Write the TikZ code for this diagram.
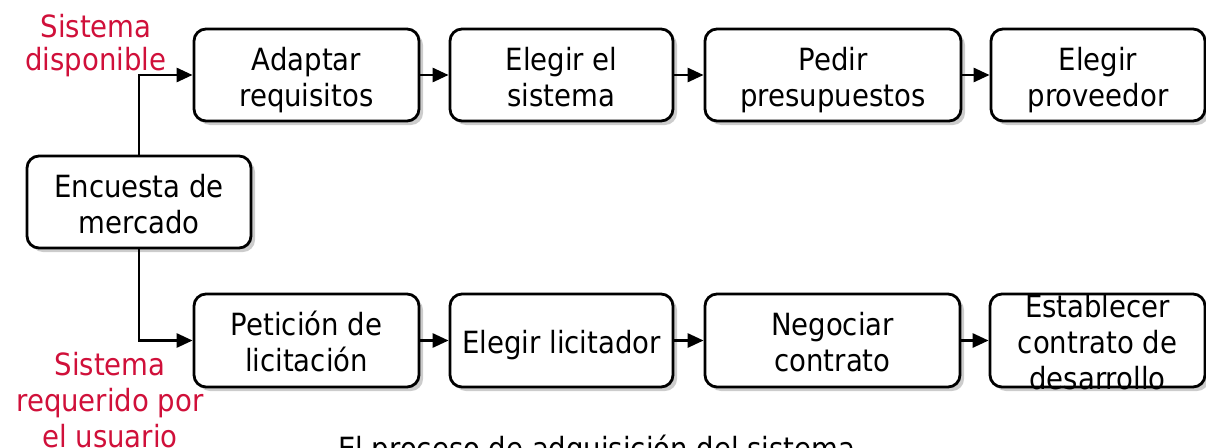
\documentclass[tikz,border=0pt]{standalone}
\usepackage{fontspec}
\setmainfont{DejaVu Sans Condensed}
\usetikzlibrary{arrows.meta,shadows}
\definecolor{lblred}{RGB}{208,16,58}
\definecolor{shade}{RGB}{204,204,204}
\newcommand\bxtop{\rule{0pt}{34pt}}
\newcommand\bxbot{\rule[-8pt]{0pt}{8pt}}
\begin{document}
\begin{tikzpicture}[x=1pt,y=-1pt,
  box/.style={draw=black, line width=2.8pt, rounded corners=12pt, fill=white,
    inner sep=0pt, align=center, font=\fontsize{30.6}{36}\selectfont,
    drop shadow={shadow xshift=4pt, shadow yshift=-4pt, fill=shade, opacity=1}},
  boxtext/.style={inner sep=0pt, align=center, font=\fontsize{30.6}{36}\selectfont},
  redlbl/.style={inner sep=0pt, align=center, text=lblred},
  arr/.style={line width=2.8pt, -{Triangle[length=16pt,width=14pt]}},
  caption/.style={inner sep=0pt, font=\fontsize{30.6}{36}\selectfont}]
\useasboundingbox (0,0) rectangle (1206,447);
\clip (0,0) rectangle (1206,447);

% top row
\node[box, minimum width=225pt, minimum height=92pt] (a1) at (306.5,75) {\bxtop Adaptar\\requisitos\bxbot};
\node[box, minimum width=223pt, minimum height=92pt] (a2) at (561.5,75) {\bxtop Elegir el\\sistema\bxbot};
\node[box, minimum width=256pt, minimum height=92pt] (a3) at (833,75) {\bxtop Pedir\\presupuestos\bxbot};
\node[box, minimum width=214pt, minimum height=92pt] (a4) at (1098,75) {\bxtop Elegir\\proveedor\bxbot};

% start
\node[box, minimum width=224pt, minimum height=92pt] (enc) at (139,202) {\bxtop Encuesta de\\mercado\bxbot};

% bottom row
\node[box, minimum width=225pt, minimum height=93pt] (p1) at (306.5,340.5) {\bxtop Petición de\\licitación\bxbot};
\node[box, minimum width=223pt, minimum height=93pt] (p2) at (561.5,340.5) {\bxtop Elegir licitador\bxbot};
\node[box, minimum width=255pt, minimum height=93pt] (p3) at (832.5,340.5) {\bxtop Negociar\\contrato\bxbot};
\node[box, minimum width=215pt, minimum height=93pt] (p4) at (1097.5,340.5) {};
\node[boxtext] (p4t) at (p4.center) {\bxtop Establecer\\contrato de\\desarrollo\bxbot};

% labels
\node[redlbl, font=\fontsize{30.6}{33}\selectfont] (lblA) at (96,40.5) {\bxtop Sistema\\disponible\bxbot};
\node[redlbl, font=\fontsize{30.6}{36}\selectfont] (lblB) at (110,398) {\bxtop Sistema\\requerido por\\el usuario\bxbot};

% connectors
\draw[arr] (enc.north) |- (a1.west);
\draw[arr] (enc.south) |- (p1.west);
\draw[arr] (a1) -- (a2);
\draw[arr] (a2) -- (a3);
\draw[arr] (a3) -- (a4);
\draw[arr] (p1) -- (p2);
\draw[arr] (p2) -- (p3);
\draw[arr] (p3) -- (p4);

% caption
\node[caption, anchor=base west] (cap) at (338,459) {El proceso de adquisición del sistema};
\end{tikzpicture}
\end{document}
